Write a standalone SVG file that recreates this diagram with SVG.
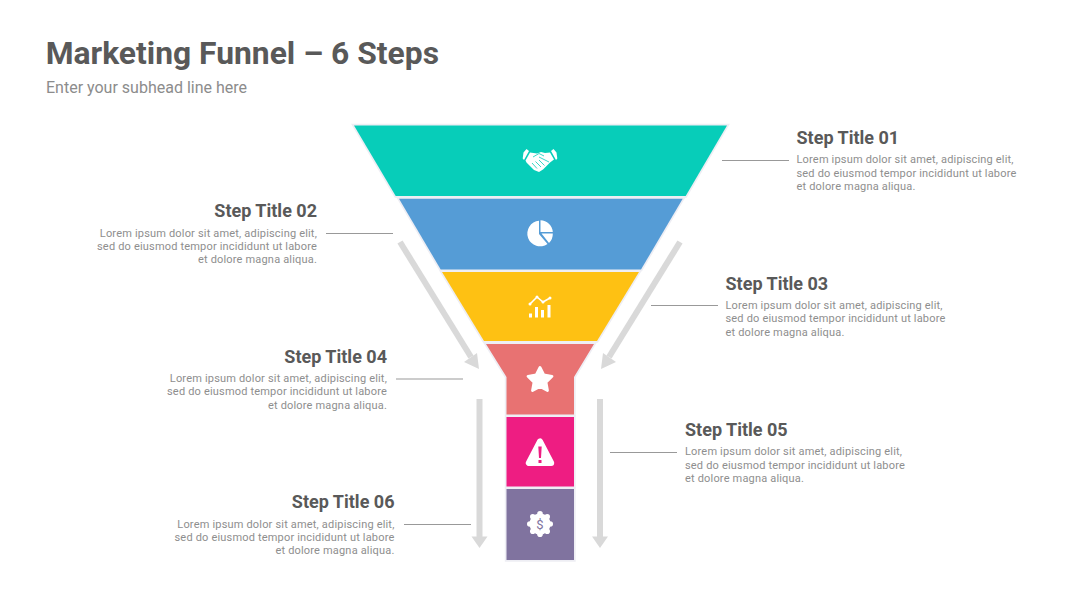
<svg xmlns="http://www.w3.org/2000/svg" width="1080" height="608" viewBox="0 0 1080 608">
<style>
text{font-family:Roboto,"Liberation Sans",sans-serif}
.h{font-size:31.800px;font-weight:700;fill:#595959}
.s{font-size:16px;fill:#8c8c8c}
.t{font-size:18px;font-weight:700;fill:#595959}
.b{font-size:11px;fill:#8e8e8e;letter-spacing:.18px}
.e{text-anchor:end}
.seg{stroke:#eeeef4;stroke-width:3.400;stroke-linejoin:miter;paint-order:stroke}
.lead{stroke:#999;stroke-width:1;fill:none}
.flow{stroke:#d9d9d9;stroke-width:6;fill:none}
.head{fill:#d9d9d9}
.ic{fill:#fff}
.il{fill:none;stroke:#fff;stroke-width:1.6}
</style>
<rect width="1080" height="608" fill="#fff"/>
<g id="heading">
<text class="h" x="45.700" y="63.500">Marketing Funnel – 6 Steps</text>
<text class="s" x="46" y="93">Enter your subhead line here</text>
</g>
<g id="connectors">
<path class="lead" d="M722 160.500H789"/>
<path class="lead" d="M326 233.500H393"/>
<path class="lead" d="M651 305.500H718"/>
<path class="lead" d="M396 379H463"/>
<path class="lead" d="M610 452.500H677"/>
<path class="lead" d="M404 524.500H471"/>
<path class="flow" d="M400 242L471 357"/>
<path class="head" d="M479 369L464 362L477 353Z"/>
<path class="flow" d="M680 242L609 357"/>
<path class="head" d="M601 369L603 353L616 362Z"/>
<path class="flow" d="M479.500 399V538"/>
<path class="head" d="M471.500 536.500H487.500L479.500 548Z"/>
<path class="flow" d="M600 399V538"/>
<path class="head" d="M592 536.500H608L600 548Z"/>
</g>
<g id="step1">
<path class="seg" d="M354 125.500H727L685.700 196H395.700Z" fill="#07cdb9"/>
<path class="ic" d="M526.500 149L529 151L524 160L522.700 158.500L523.500 152.500ZM553.500 149L551 151L556 160L557.300 158.500L556.500 152.500Z"/>
<path class="ic" d="M530 152.500L537 153.500L541 152L545 153L550 152.500L554 159.500L550 162.500L543 169.500L539 172L534 170L526.500 162.500L525.500 160.500Z"/>
<path d="M533 157L539 153.500L544 156M539 157L549 162M532 163L537 168.500M535.500 161.500L541 167M539 160L544.500 165.500" stroke="#07cdb9" stroke-width=".8" fill="none"/>
<text class="t" x="796.500" y="144">Step Title 01</text>
<text class="b" x="796.500" y="163">Lorem ipsum dolor sit amet, adipiscing elit,</text>
<text class="b" x="796.500" y="176.500">sed do eiusmod tempor incididunt ut labore</text>
<text class="b" x="796.500" y="190">et dolore magna aliqua.</text>
</g>
<g id="step2">
<path class="seg" d="M399 198.700H682.700L641 269.500H440.700Z" fill="#559cd6"/>
<path class="ic" d="M540.500 220.200V232H552.800A12.800 12.800 0 0 0 540.500 220.200Z M539 220.800A12.800 12.800 0 1 0 547.500 244L539 234Z M549 243L541.500 233.500H552.800A12.800 12.800 0 0 1 549 243Z"/>
<text class="t e" x="317" y="217">Step Title 02</text>
<text class="b e" x="317" y="236.500">Lorem ipsum dolor sit amet, adipiscing elit,</text>
<text class="b e" x="317" y="250">sed do eiusmod tempor incididunt ut labore</text>
<text class="b e" x="317" y="263">et dolore magna aliqua.</text>
</g>
<g id="step3">
<path class="seg" d="M442 272H639L597 341H484Z" fill="#fec113"/>
<path class="il" d="M530 304L537 297L543 302L550 298"/>
<circle class="ic" cx="530" cy="304" r="1.500"/><circle class="ic" cx="537" cy="297" r="1.500"/><circle class="ic" cx="543" cy="302" r="1.500"/><circle class="ic" cx="550" cy="298" r="1.500"/>
<path class="ic" d="M529 313.500h3v4h-3ZM535 307h3v10.500h-3ZM541 310h3v7.500h-3ZM547.500 305h3v12.500h-3Z"/>
<text class="t" x="725.500" y="290">Step Title 03</text>
<text class="b" x="725.500" y="309">Lorem ipsum dolor sit amet, adipiscing elit,</text>
<text class="b" x="725.500" y="322">sed do eiusmod tempor incididunt ut labore</text>
<text class="b" x="725.500" y="335.500">et dolore magna aliqua.</text>
</g>
<g id="step4">
<path class="seg" d="M486 344H594L574 377V414.500H506.500V377Z" fill="#e87272"/>
<path class="ic" stroke="#fff" stroke-width="2.800" stroke-linejoin="round" d="M540 367.500L543.800 375L552 376.300L546 382.300L547.500 390.500L540 386.500L532.500 390.500L534 382.300L528 376.300L536.200 375Z"/>
<text class="t e" x="387" y="362.500">Step Title 04</text>
<text class="b e" x="387" y="382">Lorem ipsum dolor sit amet, adipiscing elit,</text>
<text class="b e" x="387" y="395">sed do eiusmod tempor incididunt ut labore</text>
<text class="b e" x="387" y="408.500">et dolore magna aliqua.</text>
</g>
<g id="step5">
<path class="seg" d="M506.500 417H574V486.500H506.500Z" fill="#ee1d82"/>
<path fill="#fff" stroke="#fff" stroke-width="6" stroke-linejoin="round" d="M540 441.500L528.800 463H551.200Z"/>
<path fill="#ee1d82" d="M538.300 446.500H541.700L541 458H539ZM538.500 460h3v3h-3Z"/>
<text class="t" x="685" y="436">Step Title 05</text>
<text class="b" x="685" y="455">Lorem ipsum dolor sit amet, adipiscing elit,</text>
<text class="b" x="685" y="468.500">sed do eiusmod tempor incididunt ut labore</text>
<text class="b" x="685" y="482">et dolore magna aliqua.</text>
</g>
<g id="step6">
<path class="seg" d="M506.500 489H574V560H506.500Z" fill="#80739f"/>
<circle class="ic" cx="540" cy="524" r="10.500"/>
<g class="ic"><circle cx="540" cy="513.800" r="2.800"/><circle cx="540" cy="534.200" r="2.800"/><circle cx="529.800" cy="524" r="2.800"/><circle cx="550.200" cy="524" r="2.800"/><circle cx="532.800" cy="516.800" r="2.800"/><circle cx="547.200" cy="516.800" r="2.800"/><circle cx="532.800" cy="531.200" r="2.800"/><circle cx="547.200" cy="531.200" r="2.800"/></g>
<text x="540" y="528.500" text-anchor="middle" font-size="13" font-weight="400" fill="#80739f">$</text>
<text class="t e" x="394.500" y="508">Step Title 06</text>
<text class="b e" x="394.500" y="527.500">Lorem ipsum dolor sit amet, adipiscing elit,</text>
<text class="b e" x="394.500" y="541">sed do eiusmod tempor incididunt ut labore</text>
<text class="b e" x="394.500" y="554">et dolore magna aliqua.</text>
</g>
</svg>
